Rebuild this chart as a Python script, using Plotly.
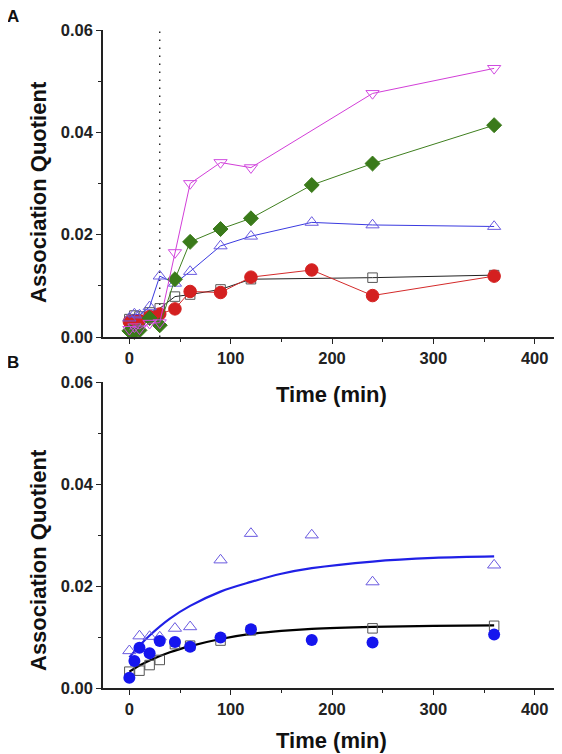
import plotly.graph_objects as go

# ---------------- Data ----------------
# Panel A
t_magenta = [0, 5, 10, 20, 30, 45, 60, 90, 120, 240, 360]
v_magenta = [0.0015, 0.0020, 0.0016, 0.0027, 0.0028, 0.0165, 0.0300, 0.0341, 0.0331, 0.0476, 0.0525]

t_green = [0, 5, 10, 20, 30, 45, 60, 90, 120, 180, 240, 360]
v_green = [0.0012, 0.0010, 0.0013, 0.0037, 0.0023, 0.0113, 0.0186, 0.0211, 0.0232, 0.0297, 0.0339, 0.0414]

t_blueA = [0, 5, 10, 20, 30, 45, 60, 90, 120, 180, 240, 360]
v_blueA = [0.0037, 0.0045, 0.0043, 0.0059, 0.0119, 0.0105, 0.0128, 0.0178, 0.0197, 0.0224, 0.0219, 0.0216]

t_red = [0, 5, 10, 20, 30, 45, 60, 90, 120, 180, 240, 360]
v_red = [0.0030, 0.0031, 0.0032, 0.0040, 0.0045, 0.0055, 0.0089, 0.0087, 0.0117, 0.0131, 0.0081, 0.0119]

t_blackA = [0, 5, 10, 20, 30, 45, 60, 90, 120, 240, 360]
v_blackA = [0.0035, 0.0042, 0.0040, 0.0048, 0.0056, 0.0079, 0.0083, 0.0093, 0.0113, 0.0116, 0.0121]

treatment_time = 30

# Panel B
t_triB = [0, 10, 20, 30, 45, 60, 90, 120, 180, 240, 360]
v_triB = [0.0073, 0.0102, 0.0101, 0.0100, 0.0117, 0.0120, 0.0251, 0.0303, 0.0300, 0.0208, 0.0241]

t_dotB = [0, 5, 10, 20, 30, 45, 60, 90, 120, 180, 240, 360]
v_dotB = [0.0020, 0.0053, 0.0079, 0.0068, 0.0092, 0.0090, 0.0081, 0.0099, 0.0115, 0.0094, 0.0089, 0.0105]

t_sqB = [0, 10, 20, 30, 45, 60, 90, 120, 240, 360]
v_sqB = [0.0032, 0.0034, 0.0045, 0.0055, 0.0086, 0.0083, 0.0093, 0.0113, 0.0117, 0.0122]

# fitted curves
t_fit = [0, 10, 20, 40, 60, 90, 120, 150, 180, 240, 300, 360]
fit_blue = [0.0060, 0.0083, 0.0103, 0.0136, 0.0161, 0.0189, 0.0208, 0.0224, 0.0235, 0.0248, 0.0255, 0.0258]
fit_black = [0.0032, 0.0044, 0.0054, 0.0070, 0.0082, 0.0096, 0.0106, 0.0112, 0.0116, 0.0120, 0.0122, 0.0123]

x_ticks = [0, 100, 200, 300, 400]
y_ticks = [0.00, 0.02, 0.04, 0.06]

# ---------------- Figure ----------------
fig = go.Figure()

def line_series(t, v, color, symbol, mcolor, size, xa="x", ya="y"):
    fig.add_trace(go.Scatter(
        x=t, y=v, mode="lines+markers", xaxis=xa, yaxis=ya,
        line=dict(color=color, width=1),
        marker=dict(symbol=symbol, size=size, color=mcolor,
                    line=dict(color=mcolor, width=1)),
        cliponaxis=False, showlegend=False))

# dotted vertical line at treatment time
fig.add_trace(go.Scatter(x=[treatment_time, treatment_time], y=[0, 0.06], mode="lines",
                         line=dict(color="#111111", width=1.3, dash="1.5px,6.5px"),
                         xaxis="x", yaxis="y", showlegend=False, hoverinfo="skip"))

line_series(t_blackA, v_blackA, "#222222", "square-open", "#555555", 9.5)
line_series(t_red, v_red, "#d42a2a", "circle", "#d42020", 12.5)
line_series(t_blueA, v_blueA, "#3a3ae0", "triangle-up-open", "#6a5ae0", 11.5)
line_series(t_green, v_green, "#3f7f1f", "diamond", "#3a7a1a", 11.5)
line_series(t_magenta, v_magenta, "#d23ed8", "triangle-down-open", "#d04ae0", 11.5)

# Panel B
fig.add_trace(go.Scatter(x=t_fit, y=fit_blue, mode="lines", line=dict(color="#2020e6", width=2.2, shape="spline"),
                         xaxis="x2", yaxis="y2", showlegend=False))
fig.add_trace(go.Scatter(x=t_fit, y=fit_black, mode="lines", line=dict(color="black", width=2.2, shape="spline"),
                         xaxis="x2", yaxis="y2", showlegend=False))
fig.add_trace(go.Scatter(x=t_sqB, y=v_sqB, mode="markers", xaxis="x2", yaxis="y2",
                         marker=dict(symbol="square-open", size=9.5, color="#555555", line=dict(width=1)),
                         cliponaxis=False, showlegend=False))
fig.add_trace(go.Scatter(x=t_triB, y=v_triB, mode="markers", xaxis="x2", yaxis="y2",
                         marker=dict(symbol="triangle-up-open", size=11.5, color="#6a5ae0", line=dict(width=1)),
                         cliponaxis=False, showlegend=False))
fig.add_trace(go.Scatter(x=t_dotB, y=v_dotB, mode="markers", xaxis="x2", yaxis="y2",
                         marker=dict(symbol="circle", size=12, color="#1515ee", line=dict(width=0)),
                         cliponaxis=False, showlegend=False))

tickfont = dict(family="Liberation Sans, Arial", size=16.5, color="#222222", weight="bold")
xcommon = dict(range=[-26, 425], tickvals=x_ticks, ticktext=[str(v) for v in x_ticks],
               showline=True, linecolor="#222222", linewidth=1.5, ticks="outside", ticklen=5,
               tickwidth=1.3, tickcolor="#222222", showgrid=False, zeroline=False,
               minor=dict(dtick=50, ticks="outside", ticklen=3, tickwidth=1.2, tickcolor="#222222", showgrid=False),
               tickfont=tickfont)
ycommon = dict(range=[0, 0.06], tickvals=y_ticks, ticktext=["%.2f" % v for v in y_ticks],
               showline=True, linecolor="#222222", linewidth=1.5, ticks="outside", ticklen=5,
               tickwidth=1.3, tickcolor="#222222", showgrid=False, zeroline=False,
               minor=dict(dtick=0.01, ticks="outside", ticklen=3, tickwidth=1.2, tickcolor="#222222", showgrid=False),
               tickfont=tickfont)

# page body has an 8px default margin, so the figure is 8px smaller and shifted
fig.update_layout(
    width=554, height=746,
    margin=dict(l=95, r=2, t=22, b=66),
    paper_bgcolor="white", plot_bgcolor="white",
    xaxis=dict(domain=[0, 1], anchor="y", **xcommon),
    yaxis=dict(domain=[0.5334, 1.0], anchor="x", **ycommon),
    xaxis2=dict(domain=[0, 1], anchor="y2", **xcommon),
    yaxis2=dict(domain=[0, 0.465], anchor="x2", **ycommon),
)

titlefont = dict(family="Liberation Sans, Arial", size=22, color="#111111", weight="bold")
panelfont = dict(family="Liberation Sans, Arial", size=17, color="#111111", weight="bold")
ann = [
    dict(text="Time (min)", x=0.5, y=(688 - 394) / 658, xref="paper", yref="paper",
         showarrow=False, font=titlefont, xanchor="center", yanchor="middle"),
    dict(text="Time (min)", x=0.5, y=(688 - 740) / 658, xref="paper", yref="paper",
         showarrow=False, font=titlefont, xanchor="center", yanchor="middle"),
    dict(text="Association Quotient", x=(38 - 103) / 457, y=(688 - 192) / 658, xref="paper", yref="paper",
         showarrow=False, font=titlefont, textangle=-90, xanchor="center", yanchor="middle"),
    dict(text="Association Quotient", x=(38 - 103) / 457, y=(688 - 560) / 658, xref="paper", yref="paper",
         showarrow=False, font=titlefont, textangle=-90, xanchor="center", yanchor="middle"),
    dict(text="A", x=(13 - 103) / 457, y=(688 - 17) / 658, xref="paper", yref="paper",
         showarrow=False, font=panelfont, xanchor="center", yanchor="middle"),
    dict(text="B", x=(13 - 103) / 457, y=(688 - 363) / 658, xref="paper", yref="paper",
         showarrow=False, font=panelfont, xanchor="center", yanchor="middle"),
]
fig.update_layout(annotations=ann)

fig.write_html("out.html")
